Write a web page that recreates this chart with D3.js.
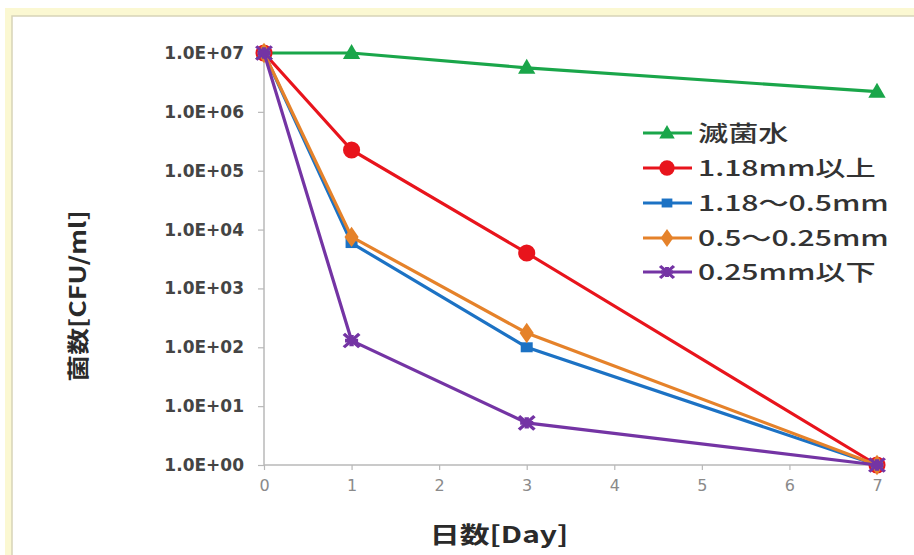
<!DOCTYPE html>
<html><head><meta charset="utf-8">
<script src="https://cdn.jsdelivr.net/npm/d3@7"></script>
<style>body{margin:0;background:#fff;}svg{display:block;}</style>
</head><body>
<svg id="c" width="914" height="555"></svg>
<script>
const days = [0, 1, 3, 7];
const seriesNames = ["滅菌水", "1.18mm以上", "1.18～0.5mm", "0.5～0.25mm", "0.25mm以下"];
const sterileWater = [1.0e7, 1.0e7, 5.6e6, 2.2e6];
const over118 = [1.0e7, 2.25e5, 4.0e3, 1.0];
const mid118to05 = [1.0e7, 5.9e3, 1.0e2, 1.0];
const mid05to025 = [1.0e7, 7.5e3, 1.75e2, 1.0];
const under025 = [1.0e7, 1.3e2, 5.2, 1.0];
const yTickValues = [1e0, 1e1, 1e2, 1e3, 1e4, 1e5, 1e6, 1e7];
const yTickLabels = ["1.0E+00", "1.0E+01", "1.0E+02", "1.0E+03", "1.0E+04", "1.0E+05", "1.0E+06", "1.0E+07"];
const xTickValues = [0, 1, 2, 3, 4, 5, 6, 7];
const colors = ["#1aa64a", "#e8141c", "#1c72c4", "#e5822a", "#7434a4"];
const markers = ["triangle", "circle", "square", "diamond", "star"];
const allSeries = [sterileWater, over118, mid118to05, mid05to025, under025];

const svg = d3.select("#c");
// frame
svg.append("rect").attr("x", 5).attr("y", 8).attr("width", 914).attr("height", 560).attr("fill", "#fbf8d2");
svg.append("rect").attr("x", 12).attr("y", 16).attr("width", 914).attr("height", 560).attr("fill", "#fff")
  .attr("stroke", "#d8d4b8").attr("stroke-width", 1.5);

const x = d3.scaleLinear().domain([0, 7]).range([264, 877]);
const y = d3.scaleLog().domain([1, 1e7]).range([465, 53]);

const font = "'Noto Sans CJK JP','Noto Sans',sans-serif";
const latin = "'DejaVu Sans',sans-serif";

// y axis
const yAxis = svg.append("g").attr("transform", "translate(264,0)")
  .call(d3.axisLeft(y).tickValues(yTickValues).tickFormat((d, i) => yTickLabels[i]).tickSize(6).tickPadding(14));
yAxis.select(".domain").attr("stroke", "#b8b8b8").attr("stroke-width", 1.5).attr("d", "M0,465V53");
yAxis.selectAll(".tick line").attr("stroke", "#b8b8b8").attr("stroke-width", 1.2);
yAxis.selectAll(".tick text").attr("fill", "#444").style("font-family", latin).style("font-size", "17px").style("font-weight", "700");

// x axis
const xAxis = svg.append("g").attr("transform", "translate(0,465)")
  .call(d3.axisBottom(x).tickValues(xTickValues).tickFormat(d3.format("d")).tickSize(5).tickPadding(10));
xAxis.select(".domain").attr("stroke", "#b8b8b8").attr("stroke-width", 1.5).attr("d", "M264,0H880");
xAxis.selectAll(".tick line").attr("stroke", "#b8b8b8").attr("stroke-width", 1.2);
xAxis.selectAll(".tick text").attr("fill", "#8a8a8a").style("font-family", latin).style("font-size", "16px");

// axis titles
svg.append("text").attr("transform", "translate(499,543) scale(1.3,1)").attr("text-anchor", "middle")
  .style("font-family", font).style("font-size", "23px").style("font-weight", "700").attr("fill", "#2a2a2a")
  .text("日数[Day]");
svg.append("text").attr("transform", "translate(78,296) rotate(-90) scale(1.22,1)").attr("text-anchor", "middle")
  .attr("dy", "0.36em")
  .style("font-family", font).style("font-size", "22px").style("font-weight", "700").attr("fill", "#2a2a2a")
  .text("菌数[CFU/ml]");

const symbolMap = {
  triangle: d3.symbolTriangle, circle: d3.symbolCircle, square: d3.symbolSquare,
  diamond: d3.symbolDiamond, star: d3.symbolAsterisk
};
const symbolSize = { triangle: 130, circle: 230, square: 100, diamond: 120, star: 120 };

function drawMarker(g, type, color, cx, cy, scale) {
  const s = scale || 1;
  if (type === "star") {
    g.append("path").attr("d", d3.symbol().type(d3.symbolX).size(symbolSize.star * s)())
      .attr("transform", `translate(${cx},${cy}) scale(1.15,1)`).attr("stroke", color).attr("stroke-width", 3).attr("fill", "none");
    g.append("path").attr("d", d3.symbol().type(d3.symbolCross).size(symbolSize.star * 0.6 * s)())
      .attr("transform", `translate(${cx},${cy}) scale(1.15,1)`).attr("fill", color);
  } else {
    const sx = (type === "square" || type === "diamond") ? 1.2 : 1;
    g.append("path").attr("d", d3.symbol().type(symbolMap[type]).size(symbolSize[type] * s)())
      .attr("transform", `translate(${cx},${cy + (type === "triangle" ? 1 : 0)}) scale(${sx},1)`).attr("fill", color);
  }
}

const line = d3.line().x((d, i) => x(days[i])).y(d => y(d));
allSeries.forEach((vals, si) => {
  const g = svg.append("g");
  g.append("path").datum(vals).attr("d", line).attr("fill", "none")
    .attr("stroke", colors[si]).attr("stroke-width", 3.2);
  vals.forEach((v, i) => drawMarker(g, markers[si], colors[si], x(days[i]), y(v)));
});

// legend
const legY = [133, 168, 203, 238, 272];
seriesNames.forEach((name, i) => {
  const g = svg.append("g");
  g.append("line").attr("x1", 643).attr("x2", 692).attr("y1", legY[i]).attr("y2", legY[i])
    .attr("stroke", colors[i]).attr("stroke-width", 3);
  drawMarker(g, markers[i], colors[i], 667, legY[i], 0.8);
  g.append("text").attr("transform", `translate(698,${legY[i]}) scale(1.37,1)`).attr("dy", "0.36em")
    .style("font-family", font).style("font-size", "22px").style("font-weight", "500").attr("fill", "#333")
    .text(name);
});
</script>
</body></html>
